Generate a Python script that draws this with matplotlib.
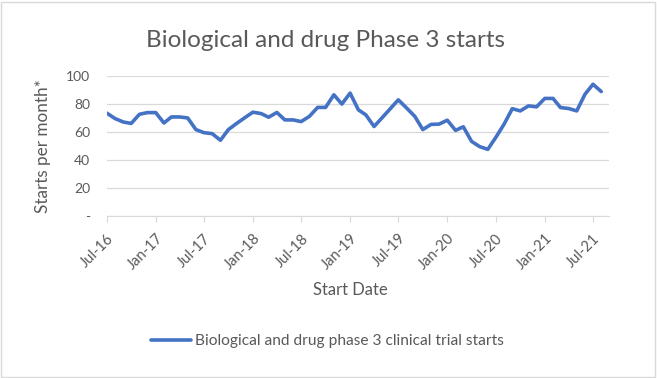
import numpy as np
import pandas as pd
import matplotlib
matplotlib.use("Agg")
import matplotlib.pyplot as plt
import matplotlib.dates as mdates
from matplotlib.patches import Rectangle

plt.rcParams["font.family"] = ["Lato", "DejaVu Sans"]

# monthly phase 3 starts, Jul-16 .. Aug-21
months = pd.date_range("2016-07-01", "2021-08-01", freq="MS")
starts = [73.4, 69.5, 67.0, 66.0, 72.5, 73.7, 73.7, 66.3, 70.6, 70.6, 69.9, 61.6,
          59.4, 58.7, 54.0, 61.6, 66.0, 70.0, 74.0, 73.0, 70.4, 73.8, 68.5, 68.5,
          67.3, 71.0, 77.4, 77.4, 86.4, 79.8, 87.6, 75.7, 72.1, 63.8, 70.0, 76.5,
          82.8, 77.0, 71.0, 61.6, 65.3, 65.5, 68.3, 61.0, 63.6, 53.2, 49.5, 47.5,
          56.0, 65.4, 76.5, 74.9, 78.5, 77.8, 83.8, 83.8, 77.3, 76.6, 74.9, 86.8,
          93.9, 88.7]
series_label = "Biological and drug phase 3 clinical trial starts"
y_ticks = [0, 20, 40, 60, 80, 100]
y_ticklabels = ["-", "20", "40", "60", "80", "100"]

grey = "#595959"
blue = "#4472C4"

fig = plt.figure(figsize=(6.57, 3.78), dpi=100)
ax = fig.add_axes([0.1624, 0.4286, 0.9277 - 0.1624, 0.7997 - 0.4286])

ax.plot(months, starts, color=blue, lw=2.6, solid_capstyle="round",
        solid_joinstyle="round", label=series_label)

ax.set_xlim(pd.Timestamp("2016-07-01"), pd.Timestamp("2021-09-01"))
ax.set_ylim(0, 100)
ax.set_yticks(y_ticks)
ax.set_yticklabels(y_ticklabels)

xt = pd.date_range("2016-07-01", "2021-07-01", freq="6MS")
ax.set_xticks(xt)
ax.xaxis.set_major_formatter(mdates.DateFormatter("%b-%y"))
for lab in ax.get_xticklabels():
    lab.set_rotation(45)
    lab.set_ha("right")
    lab.set_va("top")
    lab.set_rotation_mode("anchor")

ax.grid(axis="y", color="#d9d9d9", lw=0.9)
ax.set_axisbelow(True)
for s in ["top", "right", "left"]:
    ax.spines[s].set_visible(False)
ax.spines["bottom"].set_color("#d9d9d9")
ax.tick_params(axis="y", length=0, pad=12, labelsize=10, labelcolor=grey)
ax.tick_params(axis="x", length=4, color="#d9d9d9", pad=7, labelsize=10.5,
               labelcolor=grey)

ax.set_ylabel("Starts per month*", fontsize=12.3, color=grey, labelpad=11)
ax.set_xlabel("Start Date", fontsize=12, color=grey)
ax.xaxis.set_label_coords(0.485, -0.47)

fig.text(0.495, 0.893, "Biological and drug Phase 3 starts", ha="center",
         va="center", fontsize=17.5, color=grey)

fig.legend(loc="center", bbox_to_anchor=(0.498, 0.098), frameon=False,
           fontsize=11.2, labelcolor=grey, handlelength=2.6, handletextpad=0.25)

fig.patches.append(Rectangle((0.002, 0.003), 0.995, 0.993, transform=fig.transFigure,
                             fill=False, ec="#d9d9d9", lw=1))

fig.savefig("out.png", dpi=100)
